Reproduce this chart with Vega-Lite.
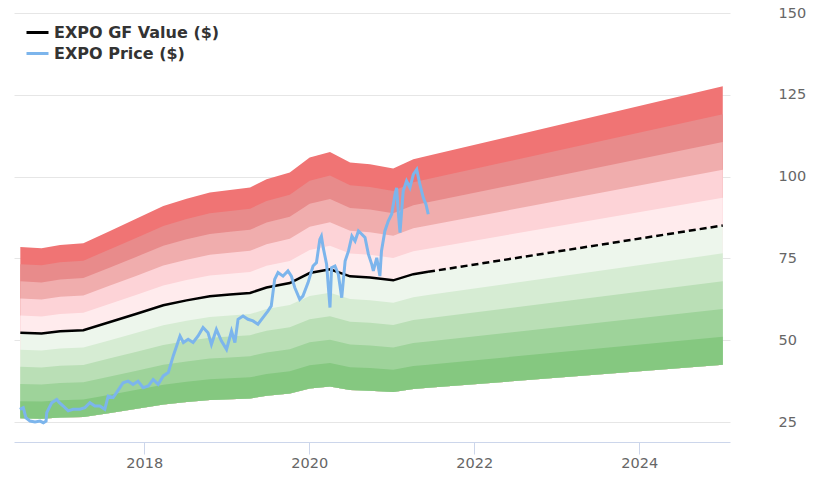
{
  "$schema": "https://vega.github.io/schema/vega-lite/v6.json",
  "width": 716,
  "height": 429,
  "autosize": {"type": "none"},
  "padding": {"left": 14, "top": 13, "right": 90, "bottom": 50},
  "background": "#ffffff",
  "config": {
    "view": {"stroke": null},
    "font": "DejaVu Sans"
  },
  "datasets": {
    "bands": [
      {"date": "2016-07-01", "v50": 26.16, "v60": 31.39, "v70": 36.62, "v80": 41.86, "v90": 47.09, "gf": 52.32, "v110": 57.55, "v120": 62.78, "v130": 68.02, "v140": 73.25, "v150": 78.48},
      {"date": "2016-10-03", "v50": 26.03, "v60": 31.24, "v70": 36.44, "v80": 41.65, "v90": 46.85, "gf": 52.06, "v110": 57.27, "v120": 62.47, "v130": 67.68, "v140": 72.88, "v150": 78.09},
      {"date": "2016-12-24", "v50": 26.37, "v60": 31.64, "v70": 36.91, "v80": 42.18, "v90": 47.46, "gf": 52.73, "v110": 58.0, "v120": 63.28, "v130": 68.55, "v140": 73.82, "v150": 79.1},
      {"date": "2017-04-06", "v50": 26.54, "v60": 31.85, "v70": 37.16, "v80": 42.46, "v90": 47.77, "gf": 53.08, "v110": 58.39, "v120": 63.7, "v130": 69.0, "v140": 74.31, "v150": 79.62},
      {"date": "2017-08-02", "v50": 27.79, "v60": 33.35, "v70": 38.91, "v80": 44.46, "v90": 50.02, "gf": 55.58, "v110": 61.14, "v120": 66.7, "v130": 72.25, "v140": 77.81, "v150": 83.37},
      {"date": "2017-11-28", "v50": 29.06, "v60": 34.87, "v70": 40.68, "v80": 46.49, "v90": 52.3, "gf": 58.11, "v110": 63.92, "v120": 69.73, "v130": 75.54, "v140": 81.35, "v150": 87.17},
      {"date": "2018-03-26", "v50": 30.34, "v60": 36.4, "v70": 42.47, "v80": 48.54, "v90": 54.6, "gf": 60.67, "v110": 66.74, "v120": 72.8, "v130": 78.87, "v140": 84.94, "v150": 91.01},
      {"date": "2018-07-07", "v50": 31.09, "v60": 37.31, "v70": 43.53, "v80": 49.74, "v90": 55.96, "gf": 62.18, "v110": 68.4, "v120": 74.62, "v130": 80.83, "v140": 87.05, "v150": 93.27},
      {"date": "2018-10-18", "v50": 31.71, "v60": 38.05, "v70": 44.39, "v80": 50.73, "v90": 57.07, "gf": 63.41, "v110": 69.75, "v120": 76.09, "v130": 82.43, "v140": 88.77, "v150": 95.12},
      {"date": "2019-01-15", "v50": 31.97, "v60": 38.36, "v70": 44.76, "v80": 51.15, "v90": 57.55, "gf": 63.94, "v110": 70.33, "v120": 76.73, "v130": 83.12, "v140": 89.52, "v150": 95.91},
      {"date": "2019-04-14", "v50": 32.22, "v60": 38.66, "v70": 45.1, "v80": 51.54, "v90": 57.99, "gf": 64.43, "v110": 70.87, "v120": 77.32, "v130": 83.76, "v140": 90.2, "v150": 96.65},
      {"date": "2019-06-26", "v50": 33.06, "v60": 39.67, "v70": 46.28, "v80": 52.9, "v90": 59.51, "gf": 66.12, "v110": 72.73, "v120": 79.34, "v130": 85.96, "v140": 92.57, "v150": 99.18},
      {"date": "2019-10-07", "v50": 33.74, "v60": 40.49, "v70": 47.24, "v80": 53.98, "v90": 60.73, "gf": 67.48, "v110": 74.23, "v120": 80.98, "v130": 87.72, "v140": 94.47, "v150": 101.22},
      {"date": "2020-01-03", "v50": 35.27, "v60": 42.32, "v70": 49.38, "v80": 56.43, "v90": 63.49, "gf": 70.54, "v110": 77.59, "v120": 84.65, "v130": 91.7, "v140": 98.76, "v150": 105.81},
      {"date": "2020-04-02", "v50": 35.84, "v60": 43.01, "v70": 50.18, "v80": 57.34, "v90": 64.51, "gf": 71.68, "v110": 78.85, "v120": 86.02, "v130": 93.18, "v140": 100.35, "v150": 107.52},
      {"date": "2020-06-30", "v50": 34.76, "v60": 41.71, "v70": 48.66, "v80": 55.62, "v90": 62.57, "gf": 69.52, "v110": 76.47, "v120": 83.42, "v130": 90.38, "v140": 97.33, "v150": 104.28},
      {"date": "2020-09-26", "v50": 34.59, "v60": 41.5, "v70": 48.42, "v80": 55.34, "v90": 62.25, "gf": 69.17, "v110": 76.09, "v120": 83.0, "v130": 89.92, "v140": 96.84, "v150": 103.76},
      {"date": "2021-01-07", "v50": 34.15, "v60": 40.98, "v70": 47.81, "v80": 54.64, "v90": 61.47, "gf": 68.3, "v110": 75.13, "v120": 81.96, "v130": 88.79, "v140": 95.62, "v150": 102.45},
      {"date": "2021-04-06", "v50": 35.1, "v60": 42.11, "v70": 49.13, "v80": 56.15, "v90": 63.17, "gf": 70.19, "v110": 77.21, "v120": 84.23, "v130": 91.25, "v140": 98.27, "v150": 105.29},
      {"date": "2021-06-10", "v50": 35.45, "v60": 42.54, "v70": 49.63, "v80": 56.72, "v90": 63.81, "gf": 70.9, "v110": 77.99, "v120": 85.08, "v130": 92.17, "v140": 99.26, "v150": 106.35},
      {"date": "2025-01-05", "v50": 42.53, "v60": 51.04, "v70": 59.54, "v80": 68.05, "v90": 76.55, "gf": 85.06, "v110": 93.57, "v120": 102.07, "v130": 110.58, "v140": 119.08, "v150": 127.59}
    ],
    "price": [
      {"date": "2016-06-29", "price": 28.9},
      {"date": "2016-07-14", "price": 29.4},
      {"date": "2016-07-26", "price": 26.3},
      {"date": "2016-08-13", "price": 25.3},
      {"date": "2016-09-04", "price": 25.0},
      {"date": "2016-09-26", "price": 25.3},
      {"date": "2016-10-11", "price": 24.8},
      {"date": "2016-10-23", "price": 25.3},
      {"date": "2016-10-26", "price": 27.9},
      {"date": "2016-11-17", "price": 30.9},
      {"date": "2016-12-09", "price": 31.9},
      {"date": "2016-12-21", "price": 30.9},
      {"date": "2017-01-07", "price": 29.9},
      {"date": "2017-01-29", "price": 28.4},
      {"date": "2017-02-20", "price": 28.9},
      {"date": "2017-03-22", "price": 28.9},
      {"date": "2017-04-13", "price": 29.4},
      {"date": "2017-05-05", "price": 30.9},
      {"date": "2017-05-27", "price": 29.9},
      {"date": "2017-06-18", "price": 29.9},
      {"date": "2017-07-10", "price": 28.9},
      {"date": "2017-07-25", "price": 32.9},
      {"date": "2017-08-16", "price": 32.5},
      {"date": "2017-08-31", "price": 34.0},
      {"date": "2017-09-29", "price": 37.0},
      {"date": "2017-10-21", "price": 37.5},
      {"date": "2017-11-12", "price": 36.5},
      {"date": "2017-12-04", "price": 37.5},
      {"date": "2017-12-27", "price": 35.5},
      {"date": "2018-01-18", "price": 36.0},
      {"date": "2018-02-09", "price": 38.0},
      {"date": "2018-03-03", "price": 36.5},
      {"date": "2018-03-26", "price": 39.1},
      {"date": "2018-04-17", "price": 40.1},
      {"date": "2018-05-09", "price": 45.2},
      {"date": "2018-06-08", "price": 51.3},
      {"date": "2018-06-23", "price": 49.3},
      {"date": "2018-07-14", "price": 50.3},
      {"date": "2018-08-05", "price": 49.3},
      {"date": "2018-08-27", "price": 51.3},
      {"date": "2018-09-18", "price": 53.9},
      {"date": "2018-10-10", "price": 52.3},
      {"date": "2018-10-25", "price": 48.7},
      {"date": "2018-11-16", "price": 53.3},
      {"date": "2018-12-08", "price": 49.8},
      {"date": "2018-12-31", "price": 47.2},
      {"date": "2019-01-22", "price": 52.8},
      {"date": "2019-02-06", "price": 49.3},
      {"date": "2019-02-20", "price": 56.4},
      {"date": "2019-03-14", "price": 57.4},
      {"date": "2019-04-05", "price": 56.4},
      {"date": "2019-04-27", "price": 55.9},
      {"date": "2019-05-19", "price": 54.9},
      {"date": "2019-06-10", "price": 56.9},
      {"date": "2019-07-02", "price": 58.9},
      {"date": "2019-07-17", "price": 60.5},
      {"date": "2019-08-01", "price": 68.6},
      {"date": "2019-08-16", "price": 70.7},
      {"date": "2019-09-07", "price": 69.6},
      {"date": "2019-09-29", "price": 71.2},
      {"date": "2019-10-14", "price": 69.6},
      {"date": "2019-10-29", "price": 66.1},
      {"date": "2019-11-20", "price": 62.5},
      {"date": "2019-12-04", "price": 63.5},
      {"date": "2019-12-27", "price": 67.6},
      {"date": "2020-01-18", "price": 72.7},
      {"date": "2020-02-02", "price": 73.7},
      {"date": "2020-02-17", "price": 80.8},
      {"date": "2020-02-24", "price": 81.8},
      {"date": "2020-03-03", "price": 78.3},
      {"date": "2020-03-18", "price": 73.2},
      {"date": "2020-04-02", "price": 60.0},
      {"date": "2020-04-09", "price": 72.2},
      {"date": "2020-04-24", "price": 72.7},
      {"date": "2020-05-09", "price": 70.1},
      {"date": "2020-05-24", "price": 63.0},
      {"date": "2020-06-08", "price": 74.2},
      {"date": "2020-06-23", "price": 77.3},
      {"date": "2020-07-08", "price": 81.8},
      {"date": "2020-07-22", "price": 80.3},
      {"date": "2020-08-06", "price": 83.4},
      {"date": "2020-08-21", "price": 82.4},
      {"date": "2020-09-04", "price": 81.4},
      {"date": "2020-09-19", "price": 76.3},
      {"date": "2020-10-04", "price": 73.2},
      {"date": "2020-10-11", "price": 71.2},
      {"date": "2020-10-26", "price": 75.2},
      {"date": "2020-11-09", "price": 69.6},
      {"date": "2020-11-16", "price": 77.3},
      {"date": "2020-12-01", "price": 83.4},
      {"date": "2020-12-16", "price": 86.4},
      {"date": "2020-12-31", "price": 88.5},
      {"date": "2021-01-15", "price": 94.6},
      {"date": "2021-01-22", "price": 96.6},
      {"date": "2021-01-29", "price": 89.5},
      {"date": "2021-02-06", "price": 82.9},
      {"date": "2021-02-20", "price": 95.6},
      {"date": "2021-03-07", "price": 98.7},
      {"date": "2021-03-22", "price": 96.6},
      {"date": "2021-04-06", "price": 100.7},
      {"date": "2021-04-21", "price": 102.2},
      {"date": "2021-05-05", "price": 97.6},
      {"date": "2021-05-20", "price": 93.6},
      {"date": "2021-06-01", "price": 91.5},
      {"date": "2021-06-11", "price": 88.5}
    ]
  },
  "encoding": {
    "x": {
      "field": "date",
      "type": "temporal",
      "scale": {"domain": ["2016-06-03", "2025-02-06"]},
      "axis": {
        "title": null,
        "format": "%Y",
        "tickCount": {"interval": "year", "step": 2},
        "grid": false,
        "domainColor": "#ccd6eb",
        "tickColor": "#ccd6eb",
        "tickSize": 12,
        "labelPadding": 2,
        "labelColor": "#666666",
        "labelFontSize": 14.5,
        "labelFont": "DejaVu Sans"
      }
    }
  },
  "layer": [
    {
      "data": {"name": "bands"},
      "mark": {"type": "area", "color": "#f07474"},
      "encoding": {
        "y": {
          "field": "v150",
          "type": "quantitative",
          "scale": {"domain": [18.9, 150], "nice": false, "zero": false},
          "axis": {
            "orient": "right",
            "title": null,
            "values": [25, 50, 75, 100, 125, 150],
            "grid": true,
            "gridColor": "#e6e6e6",
            "domain": false,
            "ticks": false,
            "tickSize": 0,
            "labelPadding": 48,
            "labelColor": "#666666",
            "labelFontSize": 14.5,
            "labelFont": "DejaVu Sans"
          }
        },
        "y2": {"field": "v50"}
      }
    },
    {"data": {"name": "bands"}, "mark": {"type": "area", "color": "#e88b8b"}, "encoding": {"y": {"field": "v140", "type": "quantitative"}, "y2": {"field": "v50"}}},
    {"data": {"name": "bands"}, "mark": {"type": "area", "color": "#f0adad"}, "encoding": {"y": {"field": "v130", "type": "quantitative"}, "y2": {"field": "v50"}}},
    {"data": {"name": "bands"}, "mark": {"type": "area", "color": "#fdd3d7"}, "encoding": {"y": {"field": "v120", "type": "quantitative"}, "y2": {"field": "v50"}}},
    {"data": {"name": "bands"}, "mark": {"type": "area", "color": "#ffebed"}, "encoding": {"y": {"field": "v110", "type": "quantitative"}, "y2": {"field": "v50"}}},
    {"data": {"name": "bands"}, "mark": {"type": "area", "color": "#edf6ec"}, "encoding": {"y": {"field": "gf", "type": "quantitative"}, "y2": {"field": "v50"}}},
    {"data": {"name": "bands"}, "mark": {"type": "area", "color": "#d6ecd3"}, "encoding": {"y": {"field": "v90", "type": "quantitative"}, "y2": {"field": "v50"}}},
    {"data": {"name": "bands"}, "mark": {"type": "area", "color": "#badfb6"}, "encoding": {"y": {"field": "v80", "type": "quantitative"}, "y2": {"field": "v50"}}},
    {"data": {"name": "bands"}, "mark": {"type": "area", "color": "#9ed39a"}, "encoding": {"y": {"field": "v70", "type": "quantitative"}, "y2": {"field": "v50"}}},
    {"data": {"name": "bands"}, "mark": {"type": "area", "color": "#85c880"}, "encoding": {"y": {"field": "v60", "type": "quantitative"}, "y2": {"field": "v50"}}},
    {
      "data": {"name": "bands"},
      "transform": [{"filter": "time(datum.date) <= time('2021-06-10')"}],
      "mark": {"type": "line", "strokeWidth": 2.5},
      "encoding": {
        "y": {"field": "gf", "type": "quantitative"},
        "color": {
          "datum": "EXPO GF Value ($)",
          "type": "nominal",
          "scale": {"domain": ["EXPO GF Value ($)", "EXPO Price ($)"], "range": ["#000000", "#7cb5ec"]},
          "legend": {
            "title": null,
            "orient": "none",
            "legendX": 11,
            "legendY": 7,
            "padding": 0,
            "symbolType": "stroke",
            "symbolStrokeWidth": 3,
            "symbolSize": 484,
            "labelFont": "DejaVu Sans",
            "labelFontSize": 16,
            "labelFontWeight": "bold",
            "labelColor": "#333333",
            "labelOffset": 4,
            "labelLimit": 400,
            "rowPadding": -3
          }
        }
      }
    },
    {
      "data": {"name": "bands"},
      "transform": [{"filter": "time(datum.date) >= time('2021-06-10')"}],
      "mark": {"type": "line", "strokeWidth": 2.5, "strokeDash": [7, 4]},
      "encoding": {
        "y": {"field": "gf", "type": "quantitative"},
        "color": {"datum": "EXPO GF Value ($)", "type": "nominal"}
      }
    },
    {
      "data": {"name": "price"},
      "mark": {"type": "line", "strokeWidth": 3},
      "encoding": {
        "y": {"field": "price", "type": "quantitative"},
        "color": {"datum": "EXPO Price ($)", "type": "nominal"}
      }
    }
  ]
}
